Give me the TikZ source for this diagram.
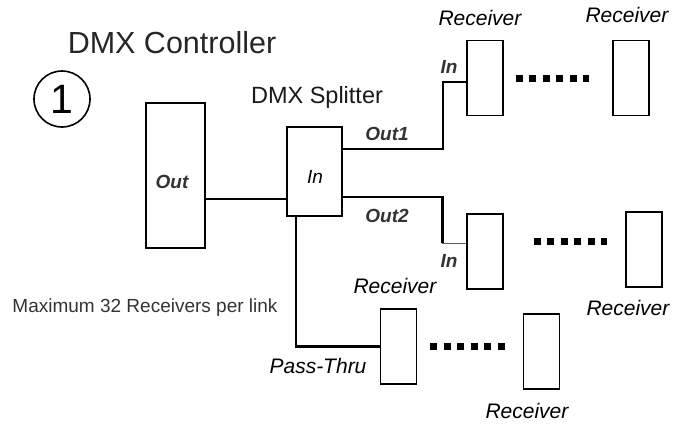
\documentclass[tikz,border=0pt]{standalone}
\usepackage{fontspec}
\setmainfont{Liberation Sans}
\tikzset{
  unit/.style={draw, line width=1.8pt, inner sep=0pt, minimum width=36pt, minimum height=75pt},
  wire/.style={line width=1.5pt},
  heavy/.style={line width=3pt},
  chain/.style={line width=7pt, dash pattern=on 7pt off 6.5pt},
  title/.style={anchor=base, font=\fontsize{30.5}{33}\selectfont, text=black!85},
  sub/.style={anchor=base, font=\fontsize{23.5}{26}\selectfont, text=black!90},
  rcv/.style={anchor=base, font=\fontsize{21}{23}\selectfont\itshape},
  port/.style={anchor=base, font=\fontsize{19}{21}\selectfont\bfseries\itshape, text=black!80},
  note/.style={anchor=base, font=\fontsize{19}{21}\selectfont, text=black!80},
}
\begin{document}
\begin{tikzpicture}[x=1pt, y=-1pt]
  \useasboundingbox (0,0) rectangle (673,424);
  % headings
  \node[title] (ttl) at (172,53) {DMX Controller};
  \node[circle, draw, line width=1.6pt, minimum size=56pt, inner sep=0pt,
    font=\fontsize{41}{41}\selectfont] (num) at (62,99) {1};
  \node[sub] (spl) at (317,103) {DMX Splitter};
  \node[note] (max) at (145,312) {Maximum 32 Receivers per link};
  % controller and splitter
  \node[unit, minimum width=59pt, minimum height=145pt] (ctrl) at (175.5,175.5) {};
  \node[unit, minimum width=55pt, minimum height=89pt] (split) at (314.5,171.5) {};
  \node[port] (lout) at (172,188) {Out};
  \node[anchor=base, font=\fontsize{19}{21}\selectfont\itshape] (lin) at (315,183) {In};
  % receivers
  \node[unit] (r1) at (485,78) {};
  \node[unit] (r2) at (631,78) {};
  \node[unit] (r3) at (485,251.5) {};
  \node[unit] (r4) at (644,249.5) {};
  \node[unit] (r5) at (398.5,346.5) {};
  \node[unit] (r6) at (541.5,351.5) {};
  \node[rcv] (n1) at (480,25) {Receiver};
  \node[rcv] (n2) at (627,22) {Receiver};
  \node[rcv] (n3) at (395,293) {Receiver};
  \node[rcv] (n4) at (628,315) {Receiver};
  \node[rcv] (n6) at (527,418) {Receiver};
  % controller to splitter
  \coordinate (c1) at ([yshift=-23.5pt]ctrl.east);
  \draw[wire] (c1) -- (c1 -| split.west);
  % out 1
  \coordinate (o1) at ([yshift=22.5pt]split.east);
  \coordinate (o1b) at (443,82);
  \draw[wire] (o1) -| (o1b) -- (o1b -| r1.west);
  \node[port] (lo1) at (387,140) {Out1};
  \node[port] (li1) at (449,73) {In};
  % out 2
  \coordinate (o2) at ([yshift=-25.5pt]split.east);
  \coordinate (o2b) at (442,243);
  \draw[wire] (o2) -- (o2 -| o2b);
  \draw[heavy, shorten <=-0.75pt] (o2 -| o2b) -- (o2b);
  \draw[line width=0.8pt, black!65] (o2b) -- (o2b -| r3.west);
  \node[port] (lo2) at (387,222) {Out2};
  \node[port] (li3) at (449,267) {In};
  % pass-thru
  \coordinate (p0) at ([xshift=-18.5pt]split.south);
  \draw[wire] (p0) -- (p0 |- r5.west);
  \draw[heavy, shorten <=-0.75pt] (p0 |- r5.west) -- (r5.west);
  \node[rcv] (lpt) at (318,373) {Pass-Thru};
  % more receivers on the link
  \draw[chain, shorten <=12pt, shorten >=23pt] ([yshift=-0.7pt]r1.east) -- ([yshift=-0.7pt]r2.west);
  \draw[chain, shorten <=30pt, shorten >=18pt] ([yshift=10.5pt]r3.east) -- ([yshift=8.5pt]r4.west);
  \draw[chain, shorten <=13pt, shorten >=18pt] (r5.east) -- (r5.east -| r6.west);
\end{tikzpicture}
\end{document}
